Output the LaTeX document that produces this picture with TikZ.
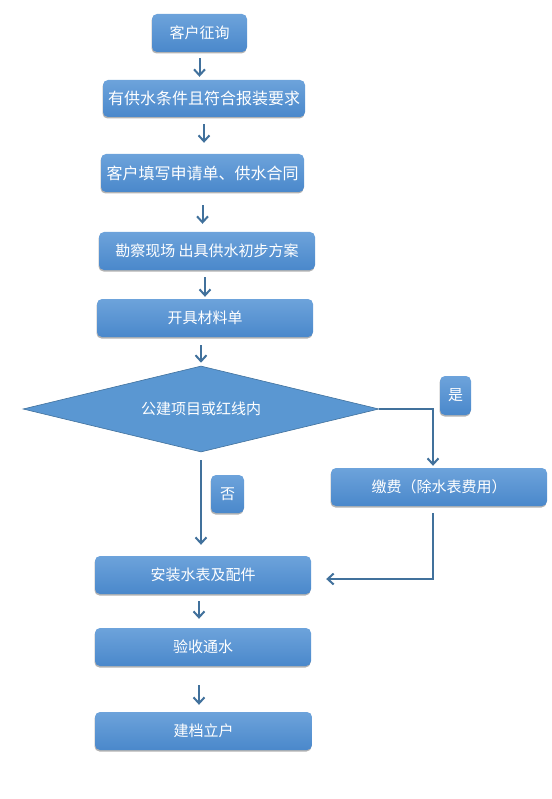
\documentclass[tikz,border=0pt]{standalone}
\usepackage{fontspec}
\setmainfont{Noto Sans CJK SC}
\usetikzlibrary{arrows.meta,shapes.geometric,shadows}
\definecolor{boxtop}{HTML}{6DA3DB}
\definecolor{boxbot}{HTML}{4A88CB}
\definecolor{linecol}{HTML}{41719C}
\definecolor{diafill}{HTML}{5A97D2}

\begin{document}
\begin{tikzpicture}[x=1pt, y=1pt, >={Straight Barb[length=6pt,width=11pt]}]
		\useasboundingbox (0,0) rectangle (551,-799);
		\tikzstyle{box} = [rectangle, rounded corners=5pt, top color=boxtop, bottom color=boxbot, text=white, minimum height=38pt, inner sep=0pt, font=\fontsize{15}{18}\selectfont, drop shadow={shadow xshift=-0.5pt, shadow yshift=-1.5pt, opacity=0.3, fill=black}]
		\tikzstyle{decide} = [diamond, aspect=4, fill=diafill, draw=linecol, line width=0.6pt, text=white, inner sep=0pt, font=\fontsize{15}{18}\selectfont]
		\node[box, minimum width=95pt] (1) at (199.5, -33) {客户征询};
		\node[box, minimum width=202pt, minimum height=37pt, font=\fontsize{16}{18}\selectfont] (2) at (204, -98.5) {有供水条件且符合报装要求};
		\node[box, minimum width=203pt, font=\fontsize{16}{18}\selectfont] (3) at (202.5, -173) {客户填写申请单、供水合同};
		\node[box, minimum width=216pt] (4) at (207, -251) {勘察现场 出具供水初步方案};
		\node[box, minimum width=216pt] (5) at (205, -318) {开具材料单};
		\node[decide, minimum width=356pt, minimum height=86pt] (6) at (201, -409) {公建项目或红线内};
		\node[box, minimum width=31pt, minimum height=39pt] (yes) at (455.5, -395.5) {是};
		\node[box, minimum width=33pt] (no) at (227.5, -494) {否};
		\node[box, minimum width=216pt] (7) at (439, -487) {缴费（除水表费用）};
		\node[box, minimum width=216pt] (8) at (203, -575) {安装水表及配件};
		\node[box, minimum width=216pt] (9) at (203, -647) {验收通水};
		\node[box, minimum width=217pt] (10) at (203.5, -731) {建档立户};

		\tikzstyle{flow} = [->, draw=linecol, line width=2pt]
		\draw [flow, shorten <=6pt, shorten >=3pt] (1.south) -- (1.south |- 2.north);
		\draw [flow, shorten <=7pt, shorten >=11pt] (2.south) -- (2.south |- 3.north);
		\draw [flow, shorten <=13pt, shorten >=8pt] (3.south) -- (3.south |- 4.north);
		\draw [flow, shorten <=7pt, shorten >=2pt] (5.north |- 4.south) -- (5.north);
		\draw [flow, shorten <=8pt, shorten >=3pt] (6.north |- 5.south) -- (6.north);
		\draw [flow, shorten <=8pt, shorten >=11pt] (6.south) -- (6.south |- 8.north);
		\draw [flow, shorten >=2pt] (6.east) -| ([xshift=-6pt]7.north);
		\draw [flow, shorten <=7pt, shorten >=15pt] ([xshift=-6pt]7.south) |- ([yshift=-4pt]8.east);
		\draw [flow, shorten <=7pt, shorten >=9pt] ([xshift=-4pt]8.south) -- ([xshift=-4pt]8.south |- 9.north);
		\draw [flow, shorten <=19pt, shorten >=7pt] ([xshift=-4pt]9.south) -- ([xshift=-4pt]9.south |- 10.north);
\end{tikzpicture}
\end{document}
